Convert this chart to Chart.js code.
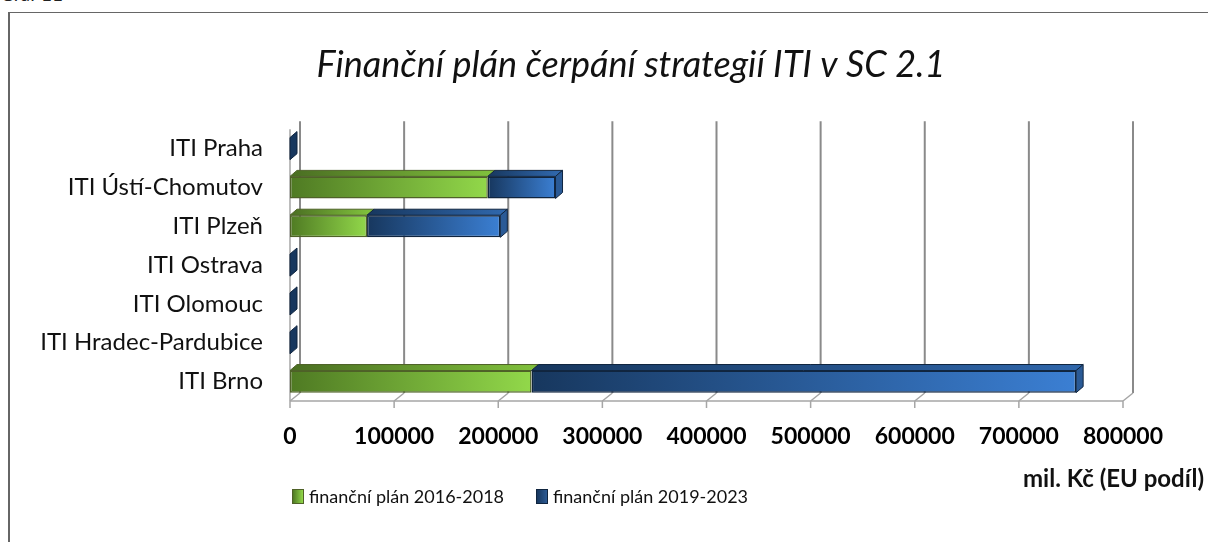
<!DOCTYPE html>
<html>
<head>
<meta charset="utf-8">
<script src="https://cdn.jsdelivr.net/npm/chart.js@4.4.1/dist/chart.umd.min.js"></script>
<style>
  body { margin: 0; background: #fff; overflow: hidden; }
  #wrap { position: relative; width: 1208px; height: 542px; font-family: Lato, sans-serif; }
  #frame { position: absolute; left: 8px; top: 12px; width: 1400px; height: 700px; border: 1px solid #666; border-left-width: 2px; }
  #graf { position: absolute; left: 0; top: -18px; font-size: 19px; color: #222; }
  canvas { position: absolute; left: 0; top: 0; }
  .leg { position: absolute; top: 485px; font-size: 18px; color: #111; white-space: nowrap; }
  .sw { display: inline-block; width: 10px; height: 13px; margin-right: 5px; vertical-align: -1px; }
  #unit { position: absolute; left: 1023px; top: 463px; font-size: 24px; font-weight: bold; color: #111; white-space: nowrap; }
</style>
</head>
<body>
<div id="wrap">
  <div id="graf">Graf 11</div>
  <div id="frame"></div>
  <canvas id="myChart" width="1208" height="542"></canvas>
  <div class="leg" style="left:292px"><span class="sw" style="background:linear-gradient(90deg,#4f7a23,#92d84a);border:1px solid #4f6228"></span>finanční plán 2016-2018</div>
  <div class="leg" style="left:536px"><span class="sw" style="background:linear-gradient(90deg,#17375e,#2c5a94);border:1px solid #10253f"></span>finanční plán 2019-2023</div>
  <div id="unit">mil. Kč (EU podíl)</div>
</div>
<script>
const categories = ['ITI Praha', 'ITI Ústí-Chomutov', 'ITI Plzeň', 'ITI Ostrava', 'ITI Olomouc', 'ITI Hradec-Pardubice', 'ITI Brno'];
const plan2016 = [0, 190000, 74000, 0, 0, 0, 232000];
const plan2019 = [0, 65000, 128000, 0, 0, 0, 523000];
const xTicks = [0, 100000, 200000, 300000, 400000, 500000, 600000, 700000, 800000];

// 3D depth of the walls and of the bars
const WALL_DX = 10, WALL_DY = 8;
const BAR_DX = 7, BAR_DY = 6;

function barGradient(context, dark, light) {
    const chart = context.chart;
    const xs = chart.scales.x;
    if (!xs || context.dataIndex === undefined) return light;
    const i = context.dataIndex;
    let start = 0;
    if (context.datasetIndex === 1) start = plan2016[i];
    const end = start + context.dataset.data[i];
    const x0 = xs.getPixelForValue(start);
    const x1 = xs.getPixelForValue(end);
    if (!isFinite(x0) || !isFinite(x1) || x1 - x0 < 1) return dark;
    const g = chart.ctx.createLinearGradient(x0, 0, x1, 0);
    g.addColorStop(0, dark);
    g.addColorStop(1, light);
    return g;
}

const walls = {
    id: 'walls',
    beforeDatasetsDraw(chart) {
        const ctx = chart.ctx;
        const xs = chart.scales.x;
        const a = chart.chartArea;
        ctx.save();
        // back wall gridlines
        ctx.strokeStyle = '#8a8a8a';
        ctx.lineWidth = 2;
        xTicks.forEach(v => {
            const x = xs.getPixelForValue(v) + WALL_DX;
            ctx.beginPath();
            ctx.moveTo(x, a.top - WALL_DY);
            ctx.lineTo(x, a.bottom - WALL_DY);
            ctx.stroke();
        });
        // floor diagonals, front axis and ticks
        ctx.strokeStyle = '#a6a6a6';
        ctx.lineWidth = 1.5;
        xTicks.forEach(v => {
            const x = xs.getPixelForValue(v);
            ctx.beginPath();
            ctx.moveTo(x, a.bottom);
            ctx.lineTo(x + WALL_DX, a.bottom - WALL_DY);
            ctx.moveTo(x, a.bottom);
            ctx.lineTo(x, a.bottom + 7);
            ctx.stroke();
        });
        ctx.beginPath();
        ctx.moveTo(a.left, a.bottom);
        ctx.lineTo(a.right, a.bottom);
        ctx.moveTo(a.left, a.top);
        ctx.lineTo(a.left, a.bottom);
        ctx.stroke();
        ctx.restore();
    },
    afterDatasetsDraw(chart) {
        const ctx = chart.ctx;
        ctx.save();
        ctx.lineWidth = 1;
        chart.data.datasets.forEach((ds, di) => {
            const meta = chart.getDatasetMeta(di);
            meta.data.forEach((el, i) => {
                const p = el.getProps(['x', 'y', 'base', 'height'], true);
                const top = p.y - p.height / 2;
                const bottom = p.y + p.height / 2;
                const left = Math.min(p.x, p.base), right = Math.max(p.x, p.base);
                if (right - left > 0.5) {
                    ctx.beginPath();
                    ctx.moveTo(left, top);
                    ctx.lineTo(right, top);
                    ctx.lineTo(right + BAR_DX, top - BAR_DY);
                    ctx.lineTo(left + BAR_DX, top - BAR_DY);
                    ctx.closePath();
                    const g = ctx.createLinearGradient(left, 0, right, 0);
                    if (di === 0) { g.addColorStop(0, '#4a6e22'); g.addColorStop(1, '#7fbf3c'); ctx.strokeStyle = '#4f6228'; }
                    else { g.addColorStop(0, '#17375e'); g.addColorStop(1, '#2f66aa'); ctx.strokeStyle = '#10253f'; }
                    ctx.fillStyle = g;
                    ctx.fill();
                    ctx.stroke();
                }
                if (di === chart.data.datasets.length - 1) {
                    const zero = plan2016[i] + plan2019[i] === 0;
                    ctx.beginPath();
                    ctx.moveTo(right, top);
                    ctx.lineTo(right + BAR_DX, top - BAR_DY);
                    ctx.lineTo(right + BAR_DX, bottom - BAR_DY);
                    ctx.lineTo(right, bottom);
                    ctx.closePath();
                    ctx.fillStyle = zero ? '#17375e' : '#2a5a96';
                    ctx.strokeStyle = '#10253f';
                    ctx.fill();
                    ctx.stroke();
                }
            });
        });
        ctx.restore();
    }
};

const ctx = document.getElementById('myChart');
const mychart = new Chart(ctx, {
    type: 'bar',
    data: {
        labels: categories,
        datasets: [
            {
                label: 'finanční plán 2016-2018',
                data: plan2016,
                backgroundColor: c => barGradient(c, '#4f7a23', '#92d84a'),
                borderColor: '#4f6228',
                borderWidth: 1.5,
                borderSkipped: false
            },
            {
                label: 'finanční plán 2019-2023',
                data: plan2019,
                backgroundColor: c => barGradient(c, '#17375e', '#3b7fd3'),
                borderColor: '#10253f',
                borderWidth: 1.5,
                borderSkipped: false
            }
        ]
    },
    options: {
        indexAxis: 'y',
        responsive: false,
        animation: false,
        devicePixelRatio: 1,
        // negative right padding moves the title centre to the right
        layout: { padding: { left: 0, right: -54, top: 0, bottom: 0 } },
        datasets: { bar: { categoryPercentage: 1, barPercentage: 0.57 } },
        plugins: {
            legend: { display: false },
            tooltip: { enabled: false },
            title: {
                display: true,
                text: 'Finanční plán čerpání strategií ITI v SC 2.1',
                color: '#111',
                font: { family: 'Lato', size: 36, style: 'italic', weight: 'normal' },
                padding: { top: 44, bottom: 42 }
            }
        },
        scales: {
            x: {
                stacked: true,
                min: 0,
                max: 800000,
                grid: { display: false, drawTicks: false },
                border: { display: false },
                afterFit: s => { s.height = 141; },
                afterBuildTicks: s => { s.ticks = xTicks.map(v => ({ value: v })); },
                ticks: {
                    color: '#000',
                    padding: 22,
                    maxRotation: 0,
                    autoSkip: false,
                    font: { family: 'Lato', size: 23, weight: 'bold' },
                    callback: v => String(v)
                }
            },
            y: {
                stacked: true,
                grid: { display: false, drawTicks: false },
                border: { display: false },
                afterFit: s => { s.width = 290; },
                ticks: {
                    color: '#111',
                    padding: 27,
                    font: { family: 'Lato', size: 24 }
                }
            },
            // empty right axis, only keeps space right of the plot
            yRight: {
                type: 'category',
                position: 'right',
                grid: { display: false, drawTicks: false },
                border: { display: false },
                ticks: { display: false },
                afterFit: s => { s.width = 139; }
            }
        }
    },
    plugins: [walls]
});
</script>
</body>
</html>
